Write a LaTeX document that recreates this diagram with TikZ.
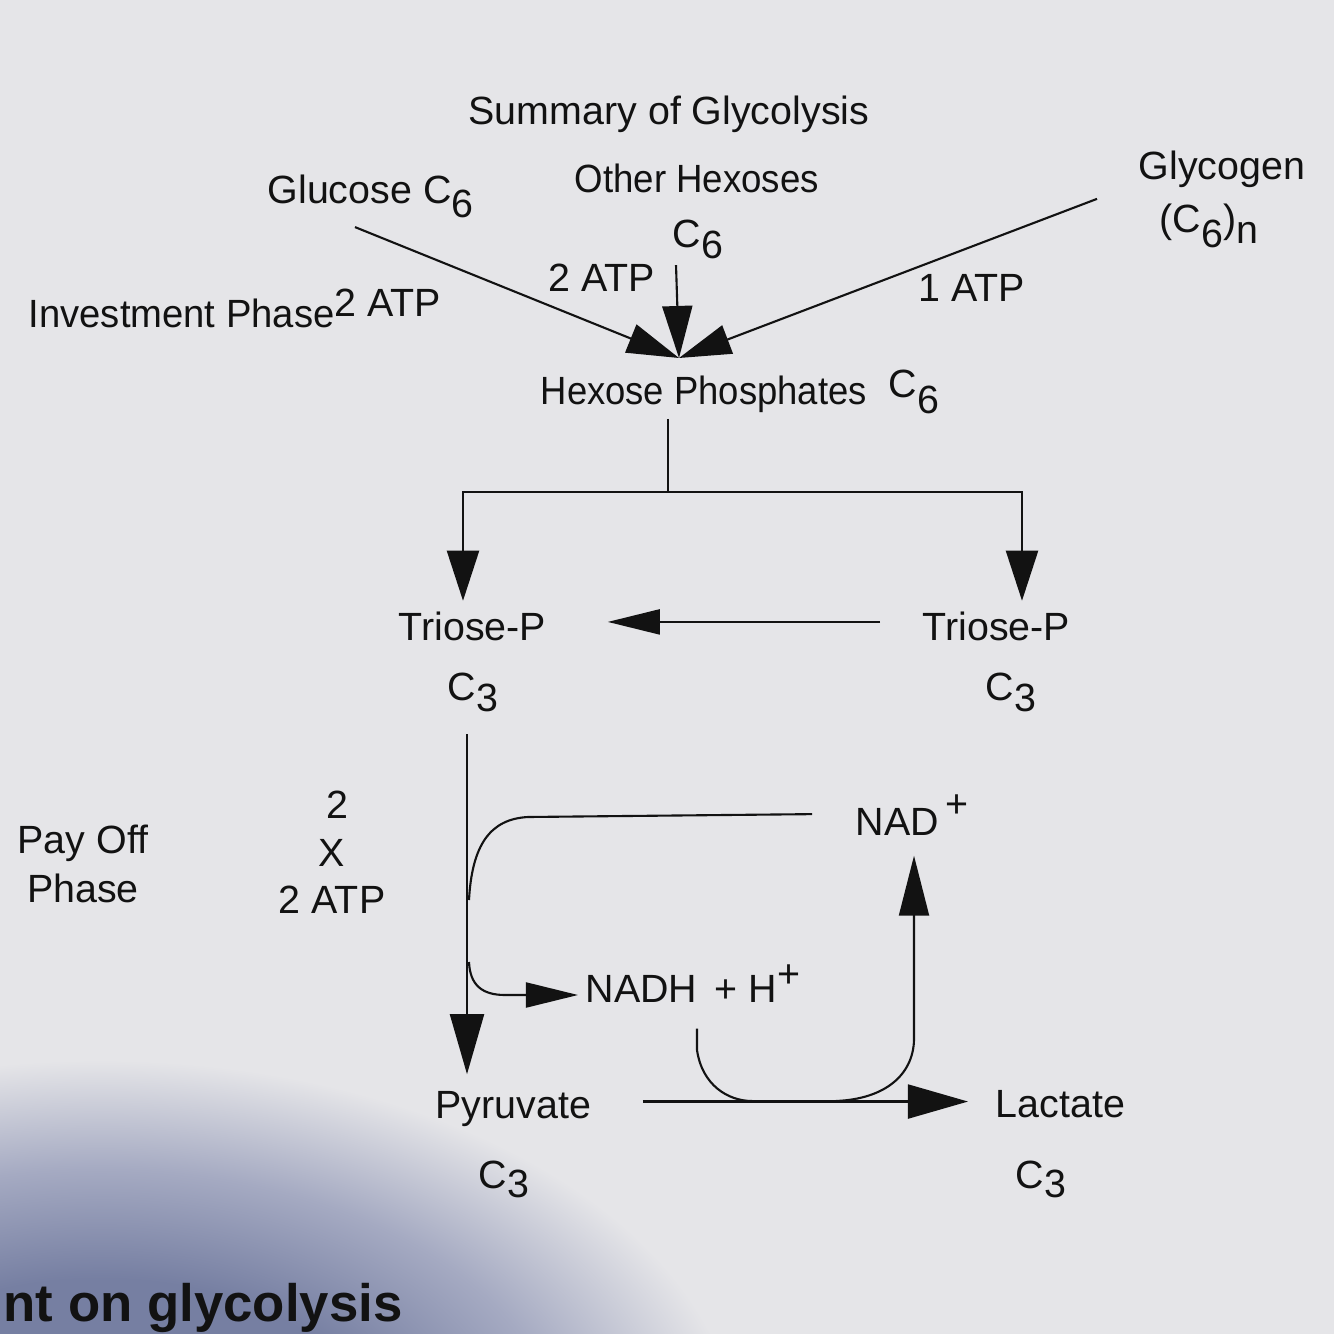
\documentclass[tikz,border=0pt]{standalone}
\usepackage{fontspec}
\usepackage{graphicx}
\setmainfont{Liberation Sans}
\usetikzlibrary{arrows.meta,calc}
\definecolor{paper}{RGB}{229,229,232}
\definecolor{ink}{RGB}{18,18,18}
\definecolor{shadowdark}{RGB}{118,127,162}
\definecolor{shadowmid}{RGB}{165,170,194}
\pgfdeclareradialshading{pageshadow}{\pgfpoint{0bp}{0bp}}{%
  color(0bp)=(shadowdark); color(11bp)=(shadowdark); color(18bp)=(shadowmid);
  color(25bp)=(paper); color(50bp)=(paper)}
\newcommand{\lo}[2][1.2mm]{\raisebox{-#1}{#2}}
\newcommand{\hi}[2][1.5mm]{\raisebox{#1}{#2}}
\newcommand{\narrow}[2][0.93]{\scalebox{#1}[1]{#2}}
\begin{document}
\begin{tikzpicture}[x=0.01cm,y=-0.01cm,
  lbl/.style={font=\fontsize{11.2}{13}\selectfont, text=ink, inner sep=0pt, anchor=base west},
  conn/.style={draw=ink, line width=0.6pt},
  headA/.style={-{Triangle[length=5.2mm,width=3.0mm]}},
  headB/.style={-{Triangle[length=5.0mm,width=3.2mm]}},
  headC/.style={-{Triangle[length=6.0mm,width=3.4mm]}},
  headD/.style={-{Triangle[length=6.0mm,width=3.0mm]}},
  headE/.style={-{Triangle[length=5.2mm,width=2.5mm]}}]
% paper
\fill[paper] (0,0) rectangle (1334,1334);
\useasboundingbox (0,0) rectangle (1334,1334);
\begin{scope}
  \clip (0,0) rectangle (1334,1334);
  \shade[shading=pageshadow] (100,1450) ellipse (640 and 390);
\end{scope}
\node[font=\fontsize{15}{17}\selectfont\bfseries, text=ink, inner sep=0pt, anchor=base west]
  (nexthead) at (3,1321) {nt on glycolysis};

% labels
\node[lbl] (title) at (468,125) {Summary of Glycolysis};
\node[lbl] (glucose) at (267,204) {Glucose C\lo[1.4mm]{6}};
\node[lbl] (other) at (574,193) {\narrow{Other Hexoses}};
\node[lbl] (otherc) at (672,248) {C\lo[1.0mm]{6}};
\node[lbl] (glycogen) at (1138,180) {Glycogen};
\node[lbl] (glycogenc) at (1159,233) {(C\lo[1.4mm]{6})\lo[1.0mm]{n}};
\node[lbl] (atpA) at (548,292) {2 ATP};
\node[lbl] (atpB) at (918,302) {1 ATP};
\node[lbl] (invest) at (28,328) {\narrow[0.97]{Investment Phase}\hi[1.1mm]{2 ATP}};
\node[lbl] (hexp) at (540,405) {\narrow[0.925]{Hexose Phosphates}};
\node[lbl] (hexc) at (888,398) {C\lo[1.5mm]{6}};
\node[lbl] (triL) at (398,640) {Triose-P};
\node[lbl] (triLc) at (447,700) {C\lo[1.1mm]{3}};
\node[lbl] (triR) at (922,640) {Triose-P};
\node[lbl] (triRc) at (985,700) {C\lo[1.1mm]{3}};
\node[lbl,anchor=base] (pay) at (83,853) {Pay Off};
\node[lbl,anchor=base] (phase) at (83,902) {Phase};
\node[lbl,anchor=base] (two) at (337,818) {2};
\node[lbl,anchor=base] (times) at (332,866) {X};
\node[lbl,anchor=base] (twoatp) at (332,913) {2 ATP};
\node[lbl] (nadp) at (855,835) {NAD\,\hi[1.7mm]{+}};
\node[lbl] (nadh) at (585,1002) {NADH \,+ H\hi[1.5mm]{+}};
\node[lbl] (pyr) at (435,1118) {Pyruvate};
\node[lbl] (pyrc) at (478,1188) {C\lo[0.9mm]{3}};
\node[lbl] (lac) at (995,1117) {Lactate};
\node[lbl] (lacc) at (1015,1188) {C\lo[0.9mm]{3}};

% junction points and free ends
\coordinate (hin) at (679,358);
\coordinate (split) at (668,492);
\coordinate (nadhin) at (578,995);

% investment phase arrows
\draw[conn,headA] ($(glucose.south west)+(88,8)$) -- (hin);
\draw[conn,headA] ($(otherc.south west)+(4,6)$) -- (hin);
\draw[conn,headA] ($(glycogen.south west)+(-41,10)$) -- (hin);

% hexose phosphates split
\draw[conn] ($(hexp.south west)+(128,5)$) -- (split);
\draw[conn,headB] (split) -| ($(triL.north west)+(65,-10)$);
\draw[conn,headB] (split) -| ($(triR.north west)+(100,-10)$);
\draw[conn,headE] ($(triR.west)+(-42,-4)$) -- ($(triL.east)+(61,-4)$);

% payoff
\draw[conn,headC] ($(triLc.south west)+(20,22)$) -- ($(pyr.north west)+(32,-16)$);
\draw[conn,headC,shorten >=2.7mm] ($(pyr.east)+(51,-7)$) coordinate (pla) -- (pla -| lac.west);

% NAD+ -> NADH loop
\draw[conn] ($(nadp.west)+(-43,-1)$) -- (528,817)
  .. controls (490,819) and (472,845) .. (469,900);
\draw[conn,headE] (469,962) .. controls (470,985) and (482,995) .. (505,995)
  -- (nadhin);

% NADH -> NAD+ loop
\draw[conn] ($(nadh.south west)+(112,26)$) -- (697,1050)
  .. controls (702,1085) and (728,1101) .. (752,1101);
\draw[conn,headD] (836,1101) .. controls (885,1099) and (913,1075) .. (914,1040)
  -- ($(nadp.south west)+(59,20)$);
\end{tikzpicture}
\end{document}
